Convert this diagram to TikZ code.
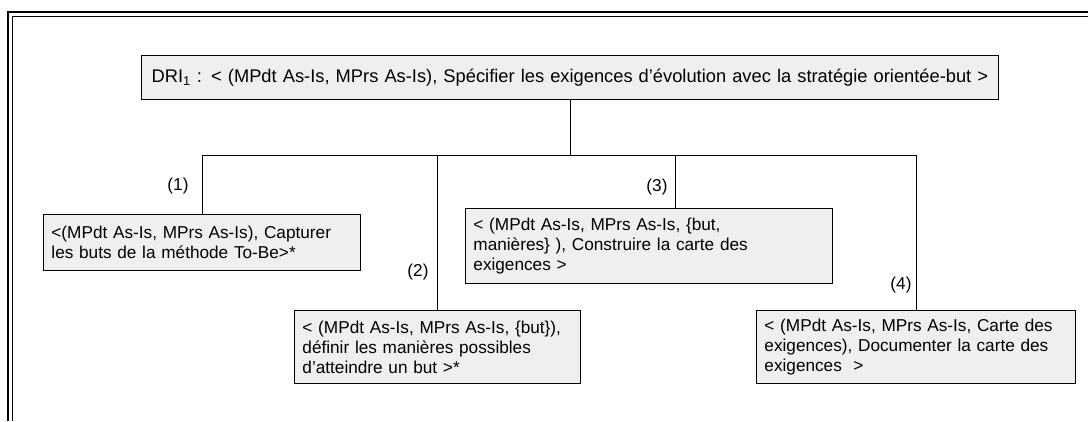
\documentclass[tikz,border=0pt]{standalone}
\usepackage{fontspec}
\setmainfont{Liberation Sans}
\begin{document}
\begin{tikzpicture}[x=1pt,y=-1pt,
  box/.style={draw=black, line width=0.9pt, fill=boxgray, anchor=north west,
    inner sep=0pt, align=left, font=\fontsize{17.2}{20}\selectfont},
  num/.style={font=\fontsize{17.2}{18}\selectfont, inner sep=0pt},
  link/.style={draw=black, line width=0.8pt}]
\definecolor{boxgray}{HTML}{EFEFEF}
\useasboundingbox (0,0) rectangle (1088,421);
% double frame along the left and top edges
\draw[line width=2pt] (8,421) -- (8,12) -- (1088,12);
\draw[line width=1pt] (12.5,421) -- (12.5,16.5) -- (1088,16.5);

% root decision
\node[box, align=center, minimum width=857pt, minimum height=44pt, text width=850pt,
  font=\fontsize{18.3}{20}\selectfont]
  (top) at (141,55) {DRI\textsubscript{1} : < (MPdt As-Is, MPrs As-Is), Spécifier les exigences d’évolution avec la stratégie orientée-but >};

% sub-decisions
\node[box, minimum width=317pt, minimum height=56pt, text width=301pt]
  (b1) at (43,214) {<(MPdt As-Is, MPrs As-Is), Capturer\\les buts de la méthode To-Be>*};
\node[box, minimum width=367pt, minimum height=75pt, text width=351pt]
  (b3) at (465,208) {< (MPdt As-Is, MPrs As-Is, \{but,\\manières\} ), Construire la carte des\\exigences >};
\node[box, minimum width=286pt, minimum height=73pt, text width=270pt]
  (b2) at (294,310) {< (MPdt As-Is, MPrs As-Is, \{but\}),\\définir les manières possibles\\d’atteindre un but >*};
\node[box, minimum width=319pt, minimum height=73pt, text width=303pt]
  (b4) at (756,310) {< (MPdt As-Is, MPrs As-Is, Carte des\\exigences), Documenter la carte des\\exigences~ >};

% tree connectors
\coordinate (j) at (570,155);
\draw[link] (top.south) -- (top.south |- j);
\draw[link] (b1.north) |- (j);
\draw[link] (b4.north) |- (j);
\draw[link] (b2.north) -- (b2.north |- j);
\draw[link] ([xshift=26pt]b3.north) -- ([xshift=26pt]b3.north |- j);

% branch numbers
\node[num] (l1) at (178,186) {(1)};
\node[num] (l2) at (418,272) {(2)};
\node[num] (l3) at (657,187) {(3)};
\node[num] (l4) at (901,285) {(4)};
\end{tikzpicture}
\end{document}
